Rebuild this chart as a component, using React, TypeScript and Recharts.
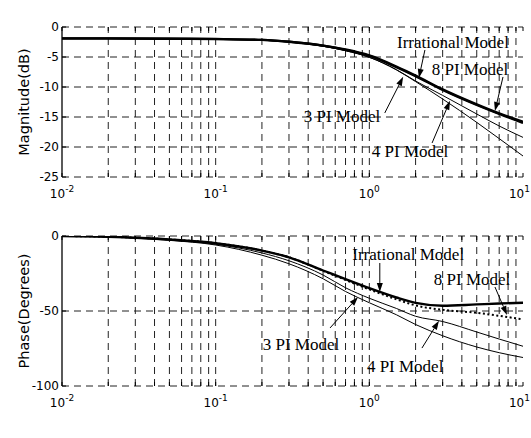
import React from "react";
import {
  LineChart,
  Line,
  XAxis,
  YAxis,
  CartesianGrid,
  ReferenceLine,
  ReferenceDot,
} from "recharts";

// frequency samples (rad/s)
const freq = [0.01, 0.02, 0.05, 0.1, 0.2, 0.3, 0.5, 0.7, 1, 1.5, 2, 3, 5, 7, 10];

// magnitude (dB)
const magIrrational = [-1.9, -1.9, -1.95, -2.0, -2.15, -2.45, -3.1, -3.75, -4.75, -6.6, -8.1, -10.4, -12.9, -14.4, -15.8];
const magPi8 = [-1.9, -1.9, -1.95, -2.0, -2.15, -2.45, -3.1, -3.8, -4.8, -6.7, -8.2, -10.5, -13.0, -14.5, -16.0];
const magPi4 = [-1.95, -1.95, -2.0, -2.05, -2.2, -2.5, -3.2, -3.95, -5.05, -7.1, -9.0, -11.4, -14.5, -16.5, -18.4];
const magPi3 = [-1.95, -1.95, -2.0, -2.05, -2.2, -2.5, -3.2, -3.95, -5.05, -7.15, -9.1, -12.0, -15.9, -18.6, -21.5];

// phase (degrees)
const phIrrational = [0, -0.5, -2.3, -4.8, -9.7, -14.2, -23, -28.8, -34.8, -41, -44.6, -46.5, -45.6, -45, -44.5];
const phPi8 = [0, -0.5, -2.3, -4.8, -9.7, -14.2, -23.2, -29.3, -35.6, -42.2, -46.3, -49.2, -51.2, -53.2, -55.6];
const phPi4 = [0, -0.6, -2.6, -5.5, -11.3, -16.5, -26, -34.5, -41.5, -48.3, -53.5, -57, -64, -68.7, -73.5];
const phPi3 = [0, -0.7, -2.9, -6, -12.8, -18.5, -28.5, -37, -44.5, -52.5, -59, -66.5, -74, -77.8, -81];

// axis ticks
const freqTicks = [0.01, 0.1, 1]
  .flatMap((d) => [1, 2, 3, 4, 5, 6, 7, 8, 9].map((m) => +(d * m).toPrecision(3)))
  .concat([10]);
const decadeTicks = [0.01, 0.1, 1, 10];
const magTicks = [-25, -20, -15, -10, -5, 0];
const phTicks = [-100, -50, 0];

// annotations: label centre and arrow (from -> to), in data units
const magNotes = [
  { text: "Irrational Model", f: 3.5, v: -2.67, f1: 2.3, v1: -3.83, f2: 2.1, v2: -8.5 },
  { text: "8 PI Model", f: 4.52, v: -7.17, f1: 7.41, v1: -8.33, f2: 6.57, v2: -14.0 },
  { text: "3 PI Model", f: 0.664, v: -15, f1: 1.26, v1: -14.33, f2: 1.66, v2: -8.3 },
  { text: "4 PI Model", f: 1.84, v: -20.83, f1: 2.56, v1: -19.33, f2: 3.35, v2: -12.3 },
];
const phNotes = [
  { text: "Irrational Model", f: 1.79, v: -12.7, f1: 1.17, v1: -18, f2: 1.17, v2: -37.3 },
  { text: "8 PI Model", f: 4.66, v: -29.3, f1: 6.57, v1: -34, f2: 7.87, v2: -52.7 },
  { text: "3 PI Model", f: 0.359, v: -72.7, f1: 0.555, v1: -61.3, f2: 0.844, v2: -40.7 },
  { text: "4 PI Model", f: 1.71, v: -87.3, f1: 2.2, v1: -74.7, f2: 2.84, v2: -56.5 },
];

const magData = freq.map((f, i) => ({
  f,
  irr: magIrrational[i],
  pi8: magPi8[i],
  pi4: magPi4[i],
  pi3: magPi3[i],
}));
const phData = freq.map((f, i) => ({
  f,
  irr: phIrrational[i],
  pi8: phPi8[i],
  pi4: phPi4[i],
  pi3: phPi3[i],
}));

const SANS = "'DejaVu Sans', Arial, sans-serif";
const SERIF = "'Liberation Serif', 'Times New Roman', serif";
const GRID_DASH = "7 5";

const LeftTick = (props: any) => {
  const { x, y, payload } = props;
  return (
    <g>
      <line x1={x} y1={y} x2={x + 4} y2={y} stroke="#000" />
      <text x={x - 3} y={y} dy={4} textAnchor="end" fontSize={12} fontFamily={SANS} fill="#000">
        {payload.value}
      </text>
    </g>
  );
};

const RightTick = (props: any) => {
  const { x, y } = props;
  return <line x1={x} y1={y} x2={x - 4} y2={y} stroke="#000" />;
};

// inward tick mark on the bottom (dir=-1) or top (dir=1) edge
const tickMark = (dir: number) => (props: any) => (
  <line x1={props.cx} y1={props.cy} x2={props.cx} y2={props.cy + dir * 4} stroke="#000" />
);

const decadeLabel = (exp: number, last: boolean) => (props: any) => (
  <text
    x={last ? props.cx + 7 : props.cx}
    y={props.cy + 21}
    textAnchor={last ? "end" : "middle"}
    fontSize={12}
    fontFamily={SANS}
    fill="#000"
  >
    10
    <tspan dy={-6} fontSize={9}>
      {exp}
    </tspan>
  </text>
);

const Arrow = (props: any) => {
  const { x1, y1, x2, y2 } = props;
  const dx = x2 - x1;
  const dy = y2 - y1;
  const len = Math.sqrt(dx * dx + dy * dy) || 1;
  const ux = dx / len;
  const uy = dy / len;
  const hl = 9;
  const hw = 3;
  const bx = x2 - ux * hl;
  const by = y2 - uy * hl;
  const pts = `${x2},${y2} ${bx - uy * hw},${by + ux * hw} ${bx + uy * hw},${by - ux * hw}`;
  return (
    <g>
      <line x1={x1} y1={y1} x2={bx} y2={by} stroke="#000" strokeWidth={1} />
      <polygon points={pts} fill="#000" />
    </g>
  );
};

const noteText = (text: string) => (props: any) => (
  <text
    x={props.cx}
    y={props.cy}
    dy={5}
    textAnchor="middle"
    fontSize={17}
    fontFamily={SERIF}
    fill="#000"
  >
    {text}
  </text>
);

const yLabel = (text: string) => (props: any) => {
  const vb = props.viewBox;
  const cx = 24;
  const cy = vb.y + vb.height / 2;
  return (
    <text
      x={cx}
      y={cy}
      transform={`rotate(-90 ${cx} ${cy})`}
      textAnchor="middle"
      dominantBaseline="central"
      fontSize={14.5}
      fontFamily={SANS}
      fill="#000"
    >
      {text}
    </text>
  );
};

type PanelProps = {
  data: typeof magData;
  height: number;
  margin: { top: number; right: number; bottom: number; left: number };
  domain: [number, number];
  ticks: number[];
  label: string;
  notes: typeof magNotes;
  dotted8: boolean;
  title?: string;
  xLabel?: string;
};

function BodePanel({ data, height, margin, domain, ticks, label, notes, dotted8, title, xLabel }: PanelProps) {
  return (
    <LineChart width={531} height={height} data={data} margin={margin}>
      <CartesianGrid stroke="#222" strokeWidth={1} strokeDasharray={GRID_DASH} vertical={false} />
      {freqTicks.slice(1, -1).map((t) => (
        <ReferenceLine key={`vg-${t}`} x={t} stroke="#222" strokeWidth={1} strokeDasharray={GRID_DASH} />
      ))}
      <XAxis
        dataKey="f"
        type="number"
        scale="log"
        domain={[0.01, 10]}
        allowDataOverflow
        height={0}
        tick={false}
        tickLine={false}
        axisLine={{ stroke: "#000", strokeWidth: 1.3 }}
        label={
          xLabel
            ? (p: any) => (
                <text
                  x={p.viewBox.x + p.viewBox.width / 2}
                  y={p.viewBox.y + 46}
                  textAnchor="middle"
                  fontSize={14}
                  fontFamily={SANS}
                  fill="#000"
                >
                  {xLabel}
                </text>
              )
            : undefined
        }
      />
      <XAxis
        xAxisId="top"
        orientation="top"
        dataKey="f"
        type="number"
        scale="log"
        domain={[0.01, 10]}
        allowDataOverflow
        height={0}
        tick={false}
        tickLine={false}
        axisLine={{ stroke: "#000", strokeWidth: 1.3 }}
        label={
          title
            ? (p: any) => (
                <text
                  x={p.viewBox.x + p.viewBox.width / 2}
                  y={p.viewBox.y - 15}
                  textAnchor="middle"
                  dominantBaseline="central"
                  fontSize={14.5}
                  fontFamily={SANS}
                  fill="#000"
                >
                  {title}
                </text>
              )
            : undefined
        }
      />
      <YAxis
        type="number"
        domain={domain}
        ticks={ticks}
        allowDataOverflow
        width={50}
        tickSize={0}
        tickMargin={0}
        tick={<LeftTick />}
        interval={0}
        axisLine={{ stroke: "#000", strokeWidth: 1.3 }}
        label={yLabel(label)}
      />
      <YAxis
        yAxisId="right"
        orientation="right"
        type="number"
        domain={domain}
        ticks={ticks}
        allowDataOverflow
        width={0}
        tickSize={0}
        tickMargin={0}
        tick={<RightTick />}
        interval={0}
        axisLine={{ stroke: "#000", strokeWidth: 1.3 }}
      />
      {freqTicks.map((t) => (
        <ReferenceDot key={`tb-${t}`} x={t} y={domain[0]} r={0} ifOverflow="visible" shape={tickMark(-1)} />
      ))}
      {freqTicks.map((t) => (
        <ReferenceDot key={`tt-${t}`} x={t} y={domain[1]} r={0} ifOverflow="visible" shape={tickMark(1)} />
      ))}
      {decadeTicks.map((t, i) => (
        <ReferenceDot
          key={`tl-${t}`}
          x={t}
          y={domain[0]}
          r={0}
          ifOverflow="visible"
          shape={decadeLabel(Math.round(Math.log10(t)), i === decadeTicks.length - 1)}
        />
      ))}
      <Line type="monotone" dataKey="pi3" stroke="#000" strokeWidth={1} dot={false} isAnimationActive={false} />
      <Line type="monotone" dataKey="pi4" stroke="#000" strokeWidth={1} dot={false} isAnimationActive={false} />
      <Line
        type="monotone"
        dataKey="pi8"
        stroke="#000"
        strokeWidth={dotted8 ? 2 : 2.2}
        strokeDasharray={dotted8 ? "2 2.5" : undefined}
        dot={false}
        isAnimationActive={false}
      />
      <Line type="monotone" dataKey="irr" stroke="#000" strokeWidth={2.4} dot={false} isAnimationActive={false} />
      {notes.map((n) => (
        <ReferenceLine
          key={`arrow-${n.text}`}
          segment={[
            { x: n.f1, y: n.v1 },
            { x: n.f2, y: n.v2 },
          ]}
          ifOverflow="visible"
          shape={<Arrow />}
        />
      ))}
      {notes.map((n) => (
        <ReferenceDot
          key={`note-${n.text}`}
          x={n.f}
          y={n.v}
          r={0}
          ifOverflow="visible"
          shape={noteText(n.text)}
        />
      ))}
    </LineChart>
  );
}

export default function App() {
  return (
    <div
      style={{
        position: "absolute",
        left: 0,
        top: 0,
        width: 531,
        height: 438,
        background: "#fff",
      }}
    >
      <BodePanel
        data={magData}
        height={210}
        margin={{ top: 27, right: 8, bottom: 33, left: 12 }}
        domain={[-25, 0]}
        ticks={magTicks}
        label="Magnitude(dB)"
        notes={magNotes}
        dotted8={false}
        title="Pxaxs"
      />
      <BodePanel
        data={phData}
        height={228}
        margin={{ top: 26, right: 8, bottom: 52, left: 12 }}
        domain={[-100, 0]}
        ticks={phTicks}
        label="Phase(Degrees)"
        notes={phNotes}
        dotted8={true}
        xLabel="Frequency(rad/s)"
      />
    </div>
  );
}
